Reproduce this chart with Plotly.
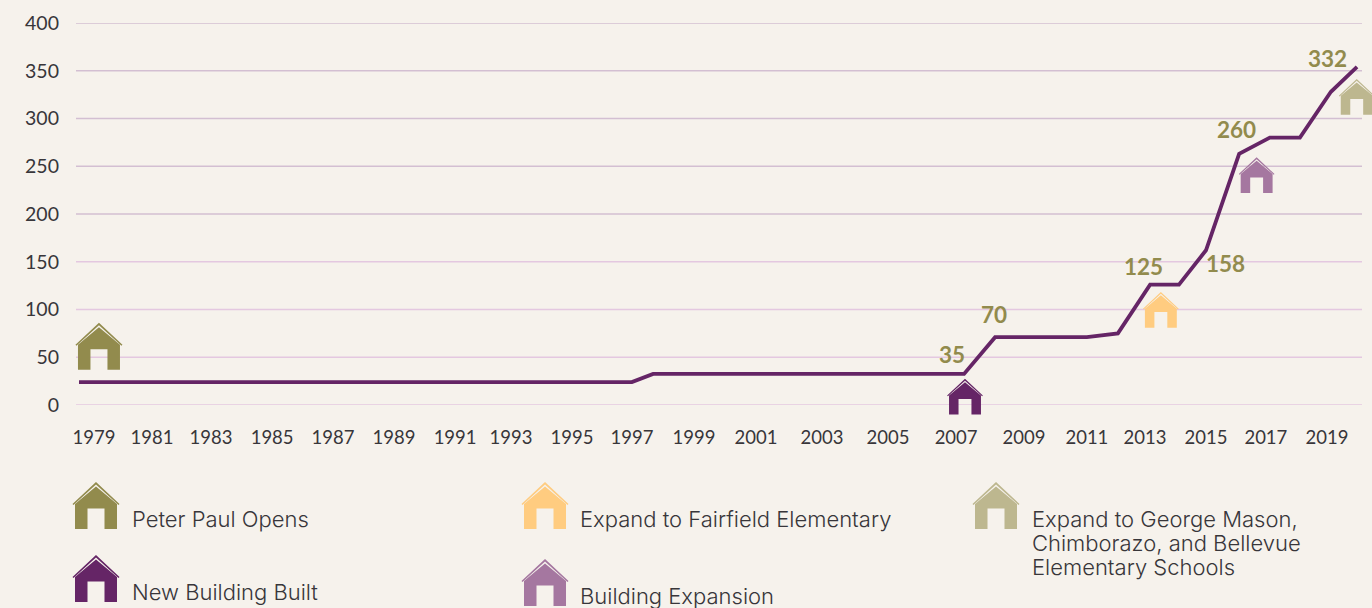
import plotly.graph_objects as go

# ---- data ----
line_years = [1979.0, 1997.01, 1997.70, 2007.83, 2008.84, 2011.83, 2012.84, 2013.89,
              2014.83, 2015.71, 2016.79, 2017.79, 2018.77, 2019.78, 2020.63]
line_values = [24, 24, 32.5, 32.5, 71, 71, 75, 126, 126, 162, 263, 280, 280, 328, 354]

y_ticks = [0, 50, 100, 150, 200, 250, 300, 350, 400]
x_tick_labels = ["1979", "1981", "1983", "1985", "1987", "1989", "1991", "1993", "1995", "1997", "1999",
                 "2001", "2003", "2005", "2007", "2009", "2011", "2013", "2015", "2017", "2019"]
x_tick_positions = [1979.49, 1981.38, 1983.30, 1985.29, 1987.27, 1989.26, 1991.25, 1993.07, 1995.06,
                    1997.01, 1999.03, 2001.05, 2003.20, 2005.35, 2007.57, 2009.78, 2011.83, 2013.72,
                    2015.71, 2017.66, 2019.65]

callout_text = ["35", "70", "125", "158", "260", "332"]
callout_x = [2007.45, 2008.81, 2013.66, 2016.33, 2016.70, 2019.68]
callout_y = [53, 95, 145.5, 148, 289, 363]

house_x = [1979.65, 2007.86, 2014.24, 2017.36, 2020.62]
house_base = [37, -10, 81, 222, 304]
house_scale = [1.0, 0.76, 0.76, 0.76, 0.76]

COL_BG = "#f6f2ec"
COL_LINE = "#652566"
COL_OLIVE = "#928b4d"
COL_YELLOW = "#ffcc80"
COL_MAUVE = "#a577a0"
COL_KHAKI = "#bdb78f"
COL_TEXT = "#38363a"
house_colors = [COL_OLIVE, COL_LINE, COL_YELLOW, COL_MAUVE, COL_KHAKI]

W, H = 1372, 608
L, R, T, B = 76, 1362, 23, 405
X0 = 1978.902
X1 = 2020.792
Y0, Y1 = 0, 400
FONT = "Lato"
LEGEND_FONT = "Inter"


def px_x(v):
    return L + (v - X0) / (X1 - X0) * (R - L)


def px_y(v):
    return B - (v - Y0) / (Y1 - Y0) * (B - T)


def pth(points):
    out = []
    for i, (x, y) in enumerate(points):
        fx = (x - L) / (R - L)
        fy = (B - y) / (B - T)
        out.append(("M" if i == 0 else "L") + f"{fx:.5f},{fy:.5f}")
    return " ".join(out) + " Z"


def house(cx, by, s, color):
    """House icon with its bottom centre at pixel (cx, by)."""
    body = [(-21, 0), (-21, -25), (0, -42.5), (21, -25), (21, 0), (8.5, 0), (8.5, -20.5),
            (-8.5, -20.5), (-8.5, 0)]
    roof = [(-23.5, -25), (0, -47), (23.5, -25), (22.5, -24), (0, -44.5), (-22.5, -24)]
    res = []
    for poly in (body, roof):
        pts = [(cx + s * a, by + s * b) for a, b in poly]
        res.append(dict(type="path", xref="paper", yref="paper", path=pth(pts),
                        fillcolor=color, line=dict(width=0), layer="above"))
    return res


shapes = []
for v in y_ticks:
    shapes.append(dict(type="line", xref="paper", yref="y", x0=0, x1=1, y0=v, y1=v, layer="below",
                       line=dict(color="#e4c8e0" if v <= 150 else "#d3bfd2", width=1.3)))
for x, b, s, c in zip(house_x, house_base, house_scale, house_colors):
    shapes += house(px_x(x), px_y(b), s, c)
# legend swatches
for cx, by, c in [(96, 529, COL_OLIVE), (96, 602, COL_LINE), (545, 529, COL_YELLOW),
                  (545, 606, COL_MAUVE), (996, 529, COL_KHAKI)]:
    shapes += house(cx, by, 1.0, c)

annotations = []
for t, x, y in zip(callout_text, callout_x, callout_y):
    annotations.append(dict(text=f"<b>{t}</b>", x=x, y=y, xref="x", yref="y", showarrow=False,
                            font=dict(family=FONT, size=22.5, color=COL_OLIVE)))
for t, x, y in [("Peter Paul Opens", 131, 519), ("New Building Built", 131, 592),
                ("Expand to Fairfield Elementary", 579, 519), ("Building Expansion", 579, 596),
                ("Expand to George Mason,", 1031, 519), ("Chimborazo, and Bellevue", 1031, 543),
                ("Elementary Schools", 1031, 567)]:
    annotations.append(dict(text=t, x=(x - L) / (R - L), y=(B - y) / (B - T), xref="paper", yref="paper",
                            xanchor="left", yanchor="middle", showarrow=False, borderpad=0,
                            font=dict(family=LEGEND_FONT, size=22, weight=300, color=COL_TEXT)))

fig = go.Figure(go.Scatter(x=line_years, y=line_values, mode="lines", cliponaxis=False,
                           line=dict(color=COL_LINE, width=3.8), hoverinfo="skip"))
fig.update_layout(
    width=W, height=H, showlegend=False,
    paper_bgcolor=COL_BG, plot_bgcolor=COL_BG,
    margin=dict(l=L, r=W - R, t=T, b=H - B, pad=0),
    shapes=shapes, annotations=annotations,
    font=dict(family=FONT, color=COL_TEXT),
    xaxis=dict(range=[X0, X1], tickmode="array", tickvals=x_tick_positions, ticktext=x_tick_labels,
               showgrid=False, zeroline=False, showline=False, ticks="", tickangle=0,
               ticklabelstandoff=19, tickfont=dict(family=FONT, size=18.5, color=COL_TEXT)),
    yaxis=dict(range=[Y0, Y1], tickmode="array", tickvals=y_ticks, showgrid=False, zeroline=False,
               showline=False, ticks="", ticklabelstandoff=16,
               tickfont=dict(family=FONT, size=19.5, color=COL_TEXT)),
)
fig.write_html("out.html", config={"displayModeBar": False},
               post_script="document.body.style.margin='0';")
